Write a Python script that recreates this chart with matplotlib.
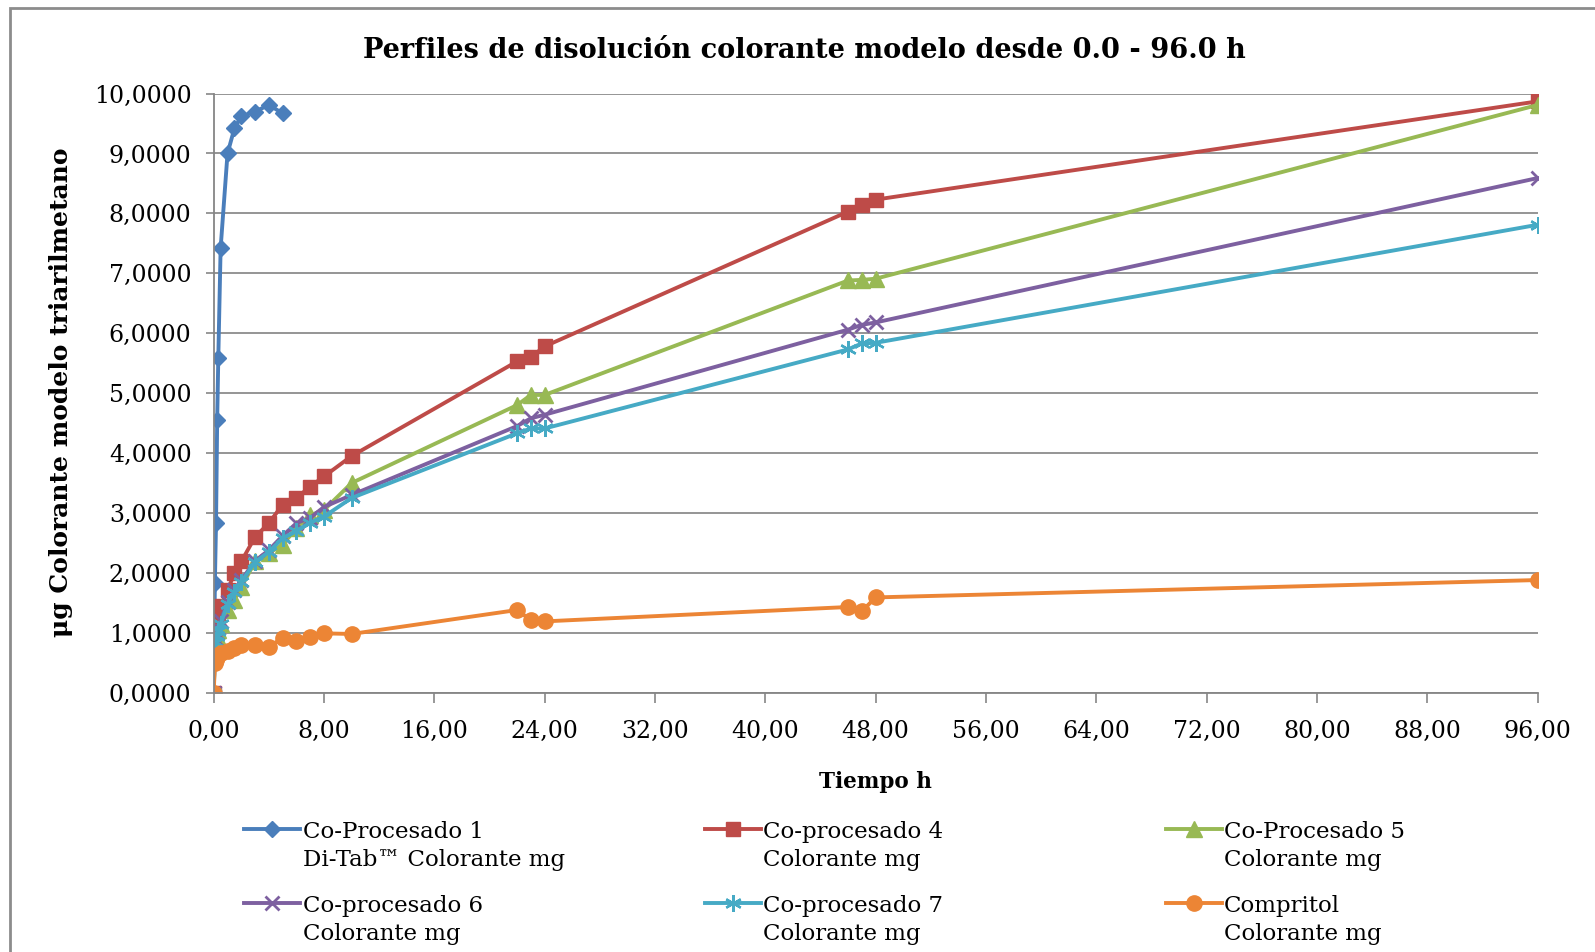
import matplotlib
matplotlib.use("Agg")
import matplotlib.pyplot as plt
from matplotlib.patches import Rectangle
from matplotlib.ticker import FuncFormatter, MultipleLocator

# tiempos (h)
t_cp1 = [0, 0.083, 0.167, 0.25, 0.33, 0.5, 1, 1.5, 2, 3, 4, 5]
t_all = [0, 0.083, 0.167, 0.25, 0.33, 0.5, 1, 1.5, 2, 3, 4, 5, 6, 7, 8, 10,
         22, 23, 24, 46, 47, 48, 96]

# colorante liberado
cp1 = [0, 1.83, 2.83, 4.55, 5.58, 7.42, 9.00, 9.42, 9.62, 9.70, 9.81, 9.67]
cp4 = [0, 0.93, 1.02, 1.12, 1.20, 1.44, 1.71, 1.99, 2.19, 2.60, 2.83, 3.14,
       3.25, 3.44, 3.61, 3.95, 5.53, 5.60, 5.78, 8.03, 8.14, 8.23, 9.87]
cp5 = [0, 0.75, 0.85, 0.95, 1.05, 1.15, 1.38, 1.55, 1.76, 2.19, 2.33, 2.47,
       2.75, 2.96, 3.05, 3.50, 4.80, 4.97, 4.97, 6.88, 6.89, 6.91, 9.81]
cp6 = [0, 0.80, 0.90, 1.00, 1.08, 1.20, 1.52, 1.72, 1.88, 2.20, 2.38, 2.62,
       2.83, 2.92, 3.10, 3.30, 4.45, 4.58, 4.64, 6.06, 6.14, 6.18, 8.59]
cp7 = [0, 0.72, 0.85, 0.95, 1.03, 1.15, 1.48, 1.68, 1.85, 2.18, 2.35, 2.58,
       2.70, 2.84, 2.94, 3.25, 4.33, 4.41, 4.41, 5.73, 5.83, 5.84, 7.81]
compritol = [0, 0.50, 0.55, 0.60, 0.63, 0.66, 0.70, 0.74, 0.80, 0.80, 0.77,
             0.91, 0.86, 0.93, 0.99, 0.98, 1.38, 1.21, 1.19, 1.43, 1.36,
             1.59, 1.88]

labels = ["Co-Procesado 1\nDi-Tab\u2122 Colorante mg",
          "Co-procesado 4\nColorante mg",
          "Co-Procesado 5\nColorante mg",
          "Co-procesado 6\nColorante mg",
          "Co-procesado 7\nColorante mg",
          "Compritol\nColorante mg"]

plt.rcParams['font.family'] = ['DejaVu Serif']

fig = plt.figure(figsize=(15.95, 9.52), dpi=100)
ax = fig.add_axes([0.134, 0.2724, 0.830, 0.6293])

lw = 2.8
l1, = ax.plot(t_cp1, cp1, color="#4A7EBB", lw=lw, marker="D", ms=8, label=labels[0])
l4, = ax.plot(t_all, cp4, color="#BE4B48", lw=lw, marker="s", ms=10.5, label=labels[1])
l5, = ax.plot(t_all, cp5, color="#98B954", lw=lw, marker="^", ms=11, label=labels[2])
l6, = ax.plot(t_all, cp6, color="#7D60A0", lw=lw, marker="x", ms=10, mew=2, label=labels[3])
l7, = ax.plot(t_all, cp7, color="#46AAC5", lw=lw, marker=(6, 2, 0), ms=12, mew=1.7, label=labels[4])
lc, = ax.plot(t_all, compritol, color="#EC8535", lw=lw, marker="o", ms=11, label=labels[5])

ax.set_xlim(0, 96)
ax.set_ylim(0, 10)
ax.xaxis.set_major_locator(MultipleLocator(8))
ax.yaxis.set_major_locator(MultipleLocator(1))
ax.xaxis.set_major_formatter(FuncFormatter(lambda v, p: f"{v:.2f}".replace(".", ",")))
ax.yaxis.set_major_formatter(FuncFormatter(lambda v, p: f"{v:.4f}".replace(".", ",")))
ax.tick_params(axis="x", length=7, width=1.2, color="#868686", pad=13, labelsize=17)
ax.tick_params(axis="y", length=6, width=1.2, color="#868686", pad=10, labelsize=17)
ax.grid(axis="y", color="#8C8C8C", lw=1.3)
ax.set_axisbelow(True)
for s in ["top", "right"]:
    ax.spines[s].set_visible(False)
for s in ["left", "bottom"]:
    ax.spines[s].set_color("#868686")
    ax.spines[s].set_linewidth(1.3)

fig.text(0.504, 0.947, "Perfiles de disolución colorante modelo desde 0.0 - 96.0 h",
         ha="center", va="center", fontsize=19.5, fontweight="bold")
fig.text(0.038, 0.588, "\u03bcg Colorante modelo triarilmetano", rotation=90,
         ha="center", va="center", fontsize=18, fontweight="bold")
ax.set_xlabel("Tiempo h", fontsize=15.5, fontweight="bold")
ax.xaxis.set_label_coords(0.5, -0.13)

# leyenda en tres columnas
cols = [(l1, l6), (l4, l7), (l5, lc)]
xs = [240 / 1568, 693 / 1568, 1146 / 1568]
for (ha_, hb_), x in zip(cols, xs):
    leg = fig.legend([ha_, hb_], [ha_.get_label(), hb_.get_label()],
                     loc="upper left", bbox_to_anchor=(x, 1 - 807 / 936),
                     frameon=False, fontsize=16.5, handlelength=2.45,
                     handletextpad=0.1, labelspacing=1.03, borderpad=0,
                     borderaxespad=0)
    for t in leg.get_texts():
        t.set_linespacing(1.38)
    for col in leg._legend_handle_box.get_children():
        for item in col.get_children():
            item.align = "top"

# borde del grafico
fig.add_artist(Rectangle((10 / 1568, -0.1), 1.2, 1.1 - 8 / 936,
                         transform=fig.transFigure, fill=False,
                         edgecolor="#8C8C8C", lw=2))

fig.savefig("out.png", dpi=100)
